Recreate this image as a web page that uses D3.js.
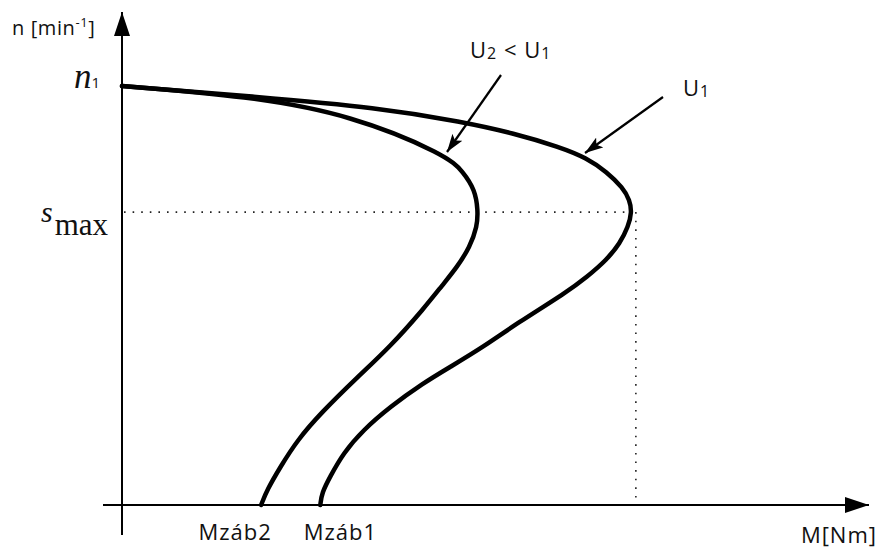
<!DOCTYPE html>
<html>
<head>
<meta charset="utf-8">
<script src="https://cdn.jsdelivr.net/npm/d3@7"></script>
<style>
  html, body { margin: 0; padding: 0; background: #fff; }
  svg { display: block; }
  .lbl { font-family: "Open Sans", "Noto Sans", sans-serif; fill: #111; }
  .math { font-family: "Liberation Serif", "DejaVu Serif", serif; fill: #111; }
</style>
</head>
<body>
<svg id="chart" width="880" height="548"></svg>
<script>
// Torque–speed characteristics of an induction motor at two supply voltages.
// Torque M in relative units, speed n in relative units (synchronous speed n1 = 1000).
const u1Torque = [0, 17.0, 34.9, 46.1, 52.8, 59.2, 62.8, 65.5, 67.7, 68.6, 68.9, 68.4, 67.3, 65.5, 62.8, 60.1, 53.4, 48.8, 44.3, 40.7, 36.2, 32.6, 29.9, 28.1, 27.0, 26.8];
const u1Speed  = [1000, 976, 948, 914, 888, 854, 828, 795, 757, 728, 699, 664, 625, 585, 544, 508, 434, 377, 329, 291, 234, 179, 124, 67, 29, 0];

const u2Torque = [0, 17.0, 31.0, 43.9, 46.1, 47.7, 48.1, 48.0, 47.0, 45.3, 43.3, 40.9, 36.2, 31.8, 26.9, 23.7, 21.4, 19.6, 18.8];
const u2Speed  = [1000, 976, 931, 835, 795, 752, 704, 664, 616, 568, 525, 471, 377, 305, 220, 155, 91, 36, 0];

const syncSpeed = 1000;      // n1
const breakdownSpeed = 699;  // speed at maximum torque
const breakdownTorque = 68.9;
const startTorqueU1 = 26.8;  // Mzáb1
const startTorqueU2 = 18.8;  // Mzáb2

const svg = d3.select("#chart");

const x = d3.scaleLinear().domain([0, 100]).range([122, 862]);
const y = d3.scaleLinear().domain([0, 1000]).range([505, 86]);

// arrowheads
const defs = svg.append("defs");
defs.append("marker")
  .attr("id", "axisHead").attr("viewBox", "0 0 24 16")
  .attr("refX", 24).attr("refY", 8)
  .attr("markerWidth", 24).attr("markerHeight", 16)
  .attr("markerUnits", "userSpaceOnUse").attr("orient", "auto")
  .append("path").attr("d", "M0,0 L24,8 L0,16 Z").attr("fill", "#000");
defs.append("marker")
  .attr("id", "pointerHead").attr("viewBox", "0 0 18 12")
  .attr("refX", 18).attr("refY", 6)
  .attr("markerWidth", 18).attr("markerHeight", 12)
  .attr("markerUnits", "userSpaceOnUse").attr("orient", "auto")
  .append("path").attr("d", "M0,0 L18,6 L0,12 L4,6 Z").attr("fill", "#000");

// axes
svg.append("line")
  .attr("x1", x(0)).attr("y1", 535).attr("x2", x(0)).attr("y2", 12)
  .attr("stroke", "#000").attr("stroke-width", 2)
  .attr("marker-end", "url(#axisHead)");
svg.append("line")
  .attr("x1", 103).attr("y1", y(0)).attr("x2", 869).attr("y2", y(0))
  .attr("stroke", "#000").attr("stroke-width", 2)
  .attr("marker-end", "url(#axisHead)");

// breakdown-torque guide lines
svg.append("line")
  .attr("x1", x(0) + 2).attr("y1", y(breakdownSpeed))
  .attr("x2", x(breakdownTorque)).attr("y2", y(breakdownSpeed))
  .attr("stroke", "#222").attr("stroke-width", 1.6)
  .attr("stroke-dasharray", "1.6 7");
svg.append("line")
  .attr("x1", x(breakdownTorque) + 4).attr("y1", y(breakdownSpeed))
  .attr("x2", x(breakdownTorque) + 4).attr("y2", y(0) - 6)
  .attr("stroke", "#222").attr("stroke-width", 1.6)
  .attr("stroke-dasharray", "1.6 7");

// characteristic curves (B-spline through the sampled points)
const line = d3.line()
  .x(d => x(d[0])).y(d => y(d[1]))
  .curve(d3.curveBasis);

const series = [
  d3.zip(u1Torque, u1Speed),
  d3.zip(u2Torque, u2Speed)
];
svg.selectAll("path.curve").data(series).join("path")
  .attr("class", "curve")
  .attr("d", line)
  .attr("fill", "none").attr("stroke", "#000")
  .attr("stroke-width", 4.5).attr("stroke-linejoin", "round").attr("stroke-linecap", "round");

// pointers to the curves
svg.append("line")
  .attr("x1", 501).attr("y1", 75).attr("x2", 447).attr("y2", 152)
  .attr("stroke", "#000").attr("stroke-width", 2.2)
  .attr("marker-end", "url(#pointerHead)");
svg.append("line")
  .attr("x1", 663).attr("y1", 97).attr("x2", 585).attr("y2", 153)
  .attr("stroke", "#000").attr("stroke-width", 2.2)
  .attr("marker-end", "url(#pointerHead)");

// curve labels
const t1 = svg.append("text").attr("class", "lbl").attr("x", 470).attr("y", 58)
  .attr("font-size", 22).attr("letter-spacing", 1);
t1.append("tspan").text("U");
t1.append("tspan").attr("font-size", 16).attr("dy", 1).text("2");
t1.append("tspan").attr("dy", -1).text(" < U");
t1.append("tspan").attr("font-size", 16).attr("dy", 1).text("1");

const t2 = svg.append("text").attr("class", "lbl").attr("x", 683).attr("y", 96)
  .attr("font-size", 22).attr("letter-spacing", 1);
t2.append("tspan").text("U");
t2.append("tspan").attr("font-size", 16).attr("dy", 1).text("1");

// axis titles
const ty = svg.append("text").attr("class", "lbl").attr("x", 12).attr("y", 35)
  .attr("font-size", 20).attr("letter-spacing", 0.6);
ty.append("tspan").text("n [min");
ty.append("tspan").attr("font-size", 13).attr("dy", -8).text("-1");
ty.append("tspan").attr("dy", 8).text("]");

svg.append("text").attr("class", "lbl")
  .attr("x", 877).attr("y", 543).attr("text-anchor", "end")
  .attr("font-size", 22).attr("letter-spacing", 1)
  .text("M[Nm]");

// speed marks on the vertical axis
const tn = svg.append("text").attr("class", "math").attr("x", 74).attr("y", y(syncSpeed) + 2);
tn.append("tspan").attr("font-size", 35).attr("font-style", "italic").text("n");
tn.append("tspan").attr("font-family", "Open Sans, sans-serif").attr("font-size", 15).text("1");

const ts = svg.append("text").attr("class", "math").attr("x", 41).attr("y", y(breakdownSpeed) + 10);
ts.append("tspan").attr("font-size", 30).attr("font-style", "italic").text("s");
ts.append("tspan").attr("font-size", 31).attr("dx", 2).attr("dy", 13).text("max");

// starting-torque marks on the horizontal axis
svg.append("text").attr("class", "lbl")
  .attr("x", x(startTorqueU2) - 26).attr("y", 540).attr("text-anchor", "middle")
  .attr("font-size", 22).attr("letter-spacing", 1)
  .text("Mzáb2");
svg.append("text").attr("class", "lbl")
  .attr("x", x(startTorqueU1) + 20).attr("y", 540).attr("text-anchor", "middle")
  .attr("font-size", 22).attr("letter-spacing", 1)
  .text("Mzáb1");
</script>
</body>
</html>
